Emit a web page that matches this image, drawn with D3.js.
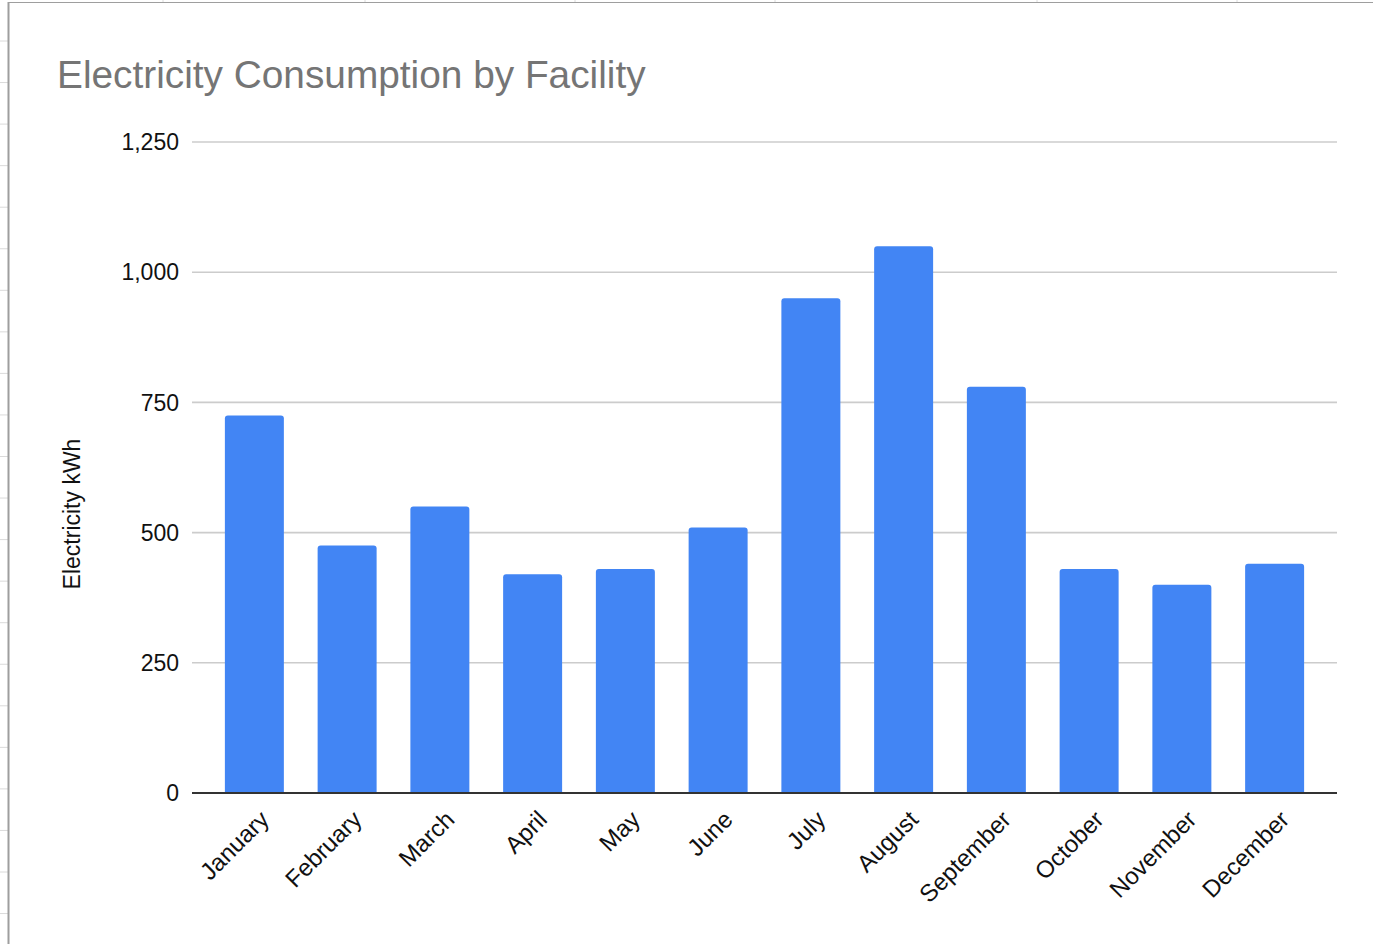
<!DOCTYPE html>
<html>
<head>
<meta charset="utf-8">
<script src="https://cdn.jsdelivr.net/npm/d3@7"></script>
<style>
  html, body { margin: 0; padding: 0; background: #fff; }
  svg { display: block; }
  text { font-family: "Liberation Sans", Arial, sans-serif; }
</style>
</head>
<body>
<svg id="chart" width="1373" height="944"></svg>
<script>
const months = ["January","February","March","April","May","June","July","August","September","October","November","December"];
const consumption = [725, 475, 550, 420, 430, 510, 950, 1050, 780, 430, 400, 440];
const yTicks = [0, 250, 500, 750, 1000, 1250];
const chartTitle = "Electricity Consumption by Facility";
const yAxisTitle = "Electricity kWh";

const svg = d3.select("#chart");
const W = 1373, H = 944;

// spreadsheet background behind the embedded chart
const bg = svg.append("g");
const rowLines = d3.range(41, H, 41.55);
bg.selectAll("line.row").data(rowLines).join("line")
  .attr("x1", 0).attr("x2", 8).attr("y1", d => d).attr("y2", d => d)
  .attr("stroke", "#dadada").attr("stroke-width", 1);
const colLines = [163, 365, 575, 775, 1037, 1237];
bg.selectAll("line.col").data(colLines).join("line")
  .attr("x1", d => d).attr("x2", d => d).attr("y1", 0).attr("y2", 2)
  .attr("stroke", "#dadada").attr("stroke-width", 1);

// chart frame
svg.append("rect").attr("x", 9).attr("y", 2.5).attr("width", W).attr("height", H)
  .attr("fill", "#fff");
svg.append("line").attr("x1", 8.5).attr("x2", W).attr("y1", 2.5).attr("y2", 2.5)
  .attr("stroke", "#9e9e9e").attr("stroke-width", 1);
svg.append("line").attr("x1", 8.5).attr("x2", 8.5).attr("y1", 2).attr("y2", H)
  .attr("stroke", "#9e9e9e").attr("stroke-width", 2);

// title
svg.append("text").attr("x", 57).attr("y", 87.5)
  .attr("font-size", 38.8).attr("fill", "#757575").text(chartTitle);

// scales
const plotLeft = 192, plotRight = 1337;
const y = d3.scaleLinear().domain([0, 1250]).range([793, 142]);
const x = d3.scaleBand().domain(months).range([208, 1321])
  .paddingInner(0.364).paddingOuter(0.182);

// gridlines
svg.append("g").selectAll("line").data(yTicks.filter(t => t !== 0)).join("line")
  .attr("x1", plotLeft).attr("x2", plotRight)
  .attr("y1", d => y(d)).attr("y2", d => y(d))
  .attr("stroke", "#cccccc").attr("stroke-width", 1.6);

// y tick labels
const fmt = d3.format(",");
svg.append("g").selectAll("text").data(yTicks).join("text")
  .attr("x", 179).attr("y", d => y(d)).attr("dy", "0.36em")
  .attr("text-anchor", "end").attr("font-size", 23).attr("fill", "#111")
  .text(d => fmt(d));

// y axis title
svg.append("text")
  .attr("transform", `translate(79.5, ${514}) rotate(-90)`)
  .attr("text-anchor", "middle").attr("font-size", 23).attr("fill", "#111")
  .text(yAxisTitle);

// bars with rounded top corners
const r = 3;
function barPath(d, i) {
  const x0 = x(months[i]), w = x.bandwidth();
  const yt = y(d), yb = y(0);
  return `M${x0},${yb}V${yt + r}Q${x0},${yt} ${x0 + r},${yt}H${x0 + w - r}Q${x0 + w},${yt} ${x0 + w},${yt + r}V${yb}Z`;
}
svg.append("g").selectAll("path").data(consumption).join("path")
  .attr("d", barPath).attr("fill", "#4285f4");

// baseline
svg.append("line").attr("x1", plotLeft).attr("x2", plotRight)
  .attr("y1", y(0)).attr("y2", y(0))
  .attr("stroke", "#333").attr("stroke-width", 2);

// x labels
svg.append("g").selectAll("text").data(months).join("text")
  .attr("transform", d => `translate(${x(d) + x.bandwidth() / 2 + 16}, 821) rotate(-45)`)
  .attr("text-anchor", "end").attr("font-size", 24).attr("fill", "#111")
  .text(d => d);
</script>
</body>
</html>
